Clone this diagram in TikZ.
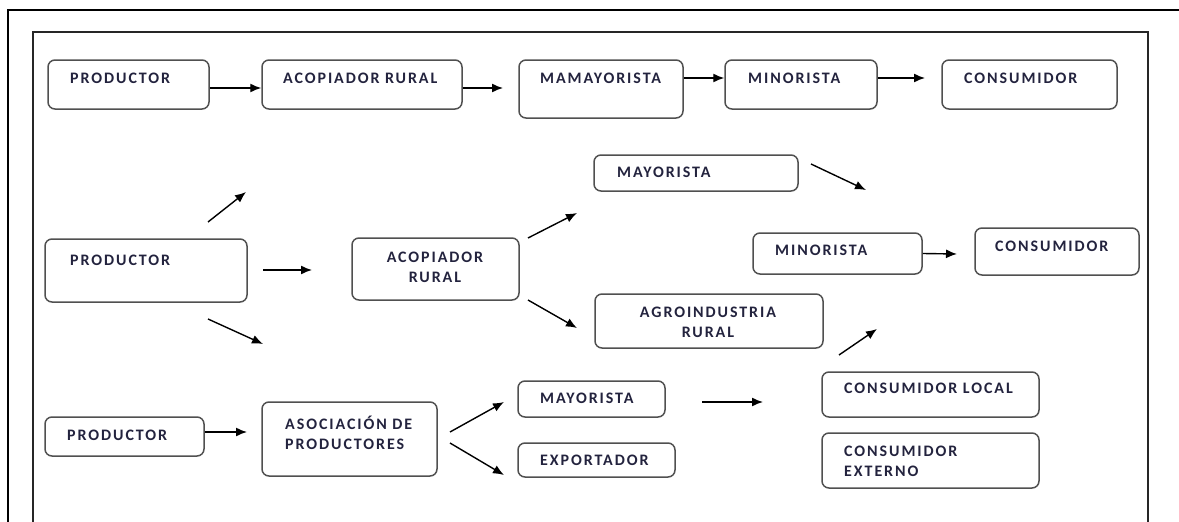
\documentclass[tikz,border=0pt]{standalone}
\usepackage{fontspec}
\setmainfont{Carlito}[LetterSpace=12]
\usetikzlibrary{arrows.meta,calc}
\definecolor{boxline}{RGB}{80,80,80}
\definecolor{labeltext}{RGB}{35,35,62}

\begin{document}
\begin{tikzpicture}[x=1pt, y=-1pt, >={Latex[length=11pt,width=9pt]}]
  \tikzset{
    box/.style={draw=boxline, line width=1.5pt, rounded corners=7pt, inner sep=0pt},
    lbl/.style={inner sep=0pt, text=labeltext, font=\fontsize{16}{20}\selectfont\bfseries},
    flow/.style={->, line width=1.4pt},
    outerframe/.style={line width=2.4pt},
    innerframe/.style={line width=1.5pt, draw=black!85},
  }
  \useasboundingbox (0,0) rectangle (1179,522);

  % frames
  \draw[outerframe] (1179,10) -- (8,10) -- (8,522);
  \draw[innerframe] (33,522) -- (33,32) -- (1148,32) -- (1148,522);

  % first channel
  \node (r1p) at (128.5,84.5) [box, minimum width=161, minimum height=49] {};
  \node (r1a) at (362,84.5) [box, minimum width=200, minimum height=49] {};
  \node (r1m) at (601,89) [box, minimum width=164, minimum height=58] {};
  \node (r1n) at (801,84.5) [box, minimum width=152, minimum height=49] {};
  \node (r1c) at (1029.5,84.5) [box, minimum width=175, minimum height=49] {};
  \node (r1pt) at (70,78) [lbl, anchor=west] {PRODUCTOR};
  \node (r1at) at (283,78) [lbl, anchor=west] {ACOPIADOR RURAL};
  \node (r1mt) at (540,78) [lbl, anchor=west] {MAMAYORISTA};
  \node (r1nt) at (748,78) [lbl, anchor=west] {MINORISTA};
  \node (r1ct) at (964,78) [lbl, anchor=west] {CONSUMIDOR};

  \coordinate (e1) at (503,88);
  \coordinate (e2) at (925,78);
  \draw[flow] ([yshift=-3.5pt]r1p.east) -- ([yshift=-3.5pt]r1p.east -| r1a.west);
  \draw[flow] ([yshift=-3.5pt]r1a.east) -- (e1);
  \draw[flow] ([yshift=11pt]r1m.east) -- ([yshift=11pt]r1m.east -| r1n.west);
  \draw[flow] ([yshift=6.5pt]r1n.east) -- (e2);

  % second channel
  \node (r2p) at (146,270.5) [box, minimum width=202, minimum height=63] {};
  \node (r2a) at (435.5,269) [box, minimum width=167, minimum height=62] {};
  \node (r2my) at (696,173) [box, minimum width=204, minimum height=36] {};
  \node (r2ag) at (709,321) [box, minimum width=228, minimum height=54] {};
  \node (r2mi) at (837.5,253.5) [box, minimum width=169, minimum height=41] {};
  \node (r2c) at (1057,251.5) [box, minimum width=164, minimum height=47] {};
  \node (r2pt) at (70,260) [lbl, anchor=west] {PRODUCTOR};
  \node (r2at) at (435,267) [lbl, align=center] {ACOPIADOR\\RURAL};
  \node (r2myt) at (617,172) [lbl, anchor=west] {MAYORISTA};
  \node (r2agt) at (708,322) [lbl, align=center] {AGROINDUSTRIA\\RURAL};
  \node (r2mit) at (775,250) [lbl, anchor=west] {MINORISTA};
  \node (r2ct) at (995,246) [lbl, anchor=west] {CONSUMIDOR};

  \coordinate (s1) at (208,222);  \coordinate (e3) at (246,192);
  \coordinate (s2) at (263,270);  \coordinate (e4) at (312,270);
  \coordinate (s3) at (208,319);  \coordinate (e5) at (263,344);
  \coordinate (s4) at (528,238);  \coordinate (e6) at (577,213);
  \coordinate (s5) at (528,300);  \coordinate (e7) at (577,328);
  \coordinate (s6) at (811,164);  \coordinate (e8) at (866,190);
  \coordinate (e9) at (957,254);
  \coordinate (s7) at (839,355);  \coordinate (e10) at (877,329);
  \draw[flow] (s1) -- (e3);
  \draw[flow] (s2) -- (e4);
  \draw[flow] (s3) -- (e5);
  \draw[flow] (s4) -- (e6);
  \draw[flow] (s5) -- (e7);
  \draw[flow] (s6) -- (e8);
  \draw[flow] (r2mi.east) -- (e9);
  \draw[flow] (s7) -- (e10);

  % third channel
  \node (r3p) at (124.5,436.5) [box, minimum width=159, minimum height=39] {};
  \node (r3as) at (349.5,439) [box, minimum width=175, minimum height=74] {};
  \node (r3my) at (591.5,399) [box, minimum width=147, minimum height=36] {};
  \node (r3ex) at (596.5,460) [box, minimum width=157, minimum height=34] {};
  \node (r3cl) at (930.5,394.5) [box, minimum width=217, minimum height=45] {};
  \node (r3ce) at (930.5,460.5) [box, minimum width=217, minimum height=55] {};
  \node (r3pt) at (67,435) [lbl, anchor=west] {PRODUCTOR};
  \node (r3ast) at (285,433) [lbl, anchor=west, align=left] {ASOCIACIÓN DE\\PRODUCTORES};
  \node (r3myt) at (540,398) [lbl, anchor=west] {MAYORISTA};
  \node (r3ext) at (540,460) [lbl, anchor=west] {EXPORTADOR};
  \node (r3clt) at (844,388) [lbl, anchor=west] {CONSUMIDOR LOCAL};
  \node (r3cet) at (844,461) [lbl, anchor=west, align=left] {CONSUMIDOR\\EXTERNO};

  \coordinate (e11) at (247,432);
  \coordinate (s8) at (450,432);  \coordinate (e12) at (504,402);
  \coordinate (s9) at (450,443);  \coordinate (e13) at (504,475);
  \coordinate (s10) at (702,402); \coordinate (e14) at (763,402);
  \draw[flow] ([yshift=4.5pt]r3p.east) -- (e11);
  \draw[flow] (s8) -- (e12);
  \draw[flow] (s9) -- (e13);
  \draw[flow] (s10) -- (e14);
\end{tikzpicture}
\end{document}
